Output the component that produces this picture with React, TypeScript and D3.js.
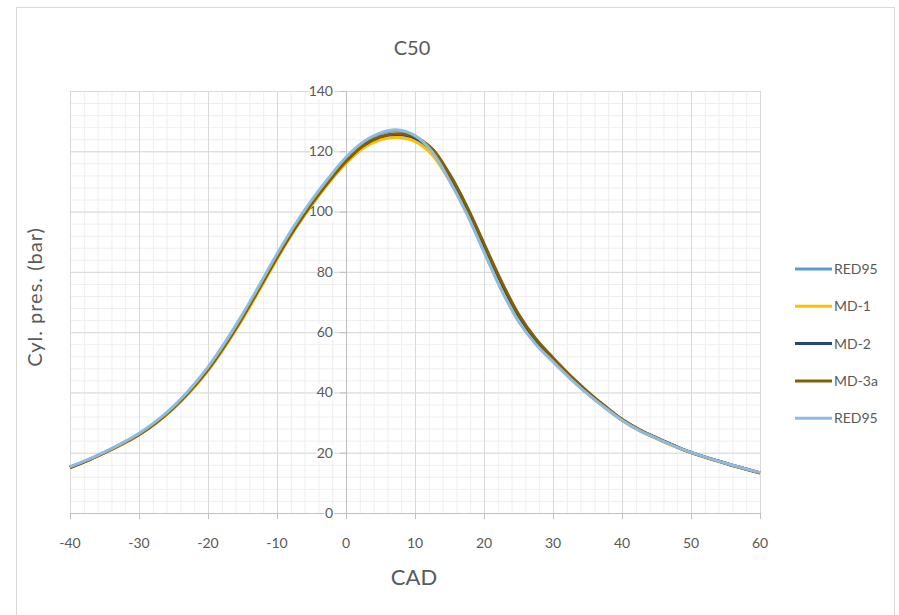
import * as d3 from "d3";
import React, { useEffect, useRef } from "react";

// crank angle (deg)
const cad = [-40, -37.5, -35, -32.5, -30, -27.5, -25, -22.5, -20, -17.5, -15, -12.5, -10, -7.5, -5, -2.5, 0, 2.5, 5, 7.5, 10, 12.5, 15, 17.5, 20, 22.5, 25, 27.5, 30, 32.5, 35, 37.5, 40, 42.5, 45, 47.5, 50, 55, 60];

const red95a = [15.2, 17.5, 20.1, 23, 26.3, 30.3, 35.2, 41.2, 48.2, 56.5, 65.6, 75.5, 85.6, 95, 103.4, 110.9, 117.7, 122.8, 125.8, 126.8, 125, 119.8, 110.5, 99.5, 86.8, 74.3, 63.8, 56.2, 50.3, 44.7, 39.6, 35, 30.8, 27.4, 24.8, 22.3, 20.1, 16.5, 13.3];
const md1 = [15, 17.3, 19.9, 22.7, 25.9, 29.8, 34.6, 40.4, 47.2, 55.3, 64.3, 74.1, 84.2, 93.7, 102, 109.5, 116, 121, 123.8, 124.6, 123.3, 118.8, 110.2, 99.5, 87, 74.8, 64, 56.4, 50.4, 44.8, 39.6, 35, 30.8, 27.4, 24.7, 22.2, 20, 16.4, 13.2];
const md2 = [15.1, 17.4, 20, 22.9, 26.1, 30.1, 35, 40.9, 47.8, 56, 65.1, 75, 85, 94.4, 102.8, 110.3, 117, 122, 124.8, 125.6, 124.4, 120.2, 111.8, 101.2, 88.8, 76.4, 65.5, 57.4, 51.2, 45.4, 40.1, 35.4, 31, 27.6, 24.9, 22.4, 20.1, 16.5, 13.3];
const md3a = [15.1, 17.4, 20, 22.9, 26, 30, 34.9, 40.8, 47.6, 55.8, 64.9, 74.8, 84.8, 94.1, 102.5, 110, 116.6, 121.8, 124.8, 125.8, 124.8, 120.8, 112.5, 101.8, 89.4, 77, 66, 57.8, 51.5, 45.6, 40.3, 35.5, 31.1, 27.7, 24.9, 22.4, 20.1, 16.5, 13.3];
const red95b = [15.3, 17.6, 20.2, 23.1, 26.4, 30.5, 35.4, 41.4, 48.4, 56.7, 65.9, 75.8, 85.9, 95.3, 103.7, 111.2, 118, 123.1, 126.1, 127.1, 125.2, 119.8, 110.3, 99.3, 86.6, 74.1, 63.6, 56, 50.2, 44.6, 39.5, 35, 30.8, 27.4, 24.8, 22.3, 20.1, 16.5, 13.4];

const seriesNames = ["RED95", "MD-1", "MD-2", "MD-3a", "RED95"];
const seriesValues = [red95a, md1, md2, md3a, red95b];
const seriesColors = ["#5b9bd5", "#ffc000", "#264478", "#806000", "#8fbbe3"];

const xTicks = [-40, -30, -20, -10, 0, 10, 20, 30, 40, 50, 60];
const yTicks = [0, 20, 40, 60, 80, 100, 120, 140];

const FONT = "'Liberation Sans Narrow', 'Lato', 'Open Sans', sans-serif";

export default function App() {
  const ref = useRef<SVGSVGElement>(null);

  useEffect(() => {
    const svg = d3.select(ref.current);
    svg.selectAll("*").remove();

    const x = d3.scaleLinear().domain([-40, 60]).range([70, 760]);
    const y = d3.scaleLinear().domain([0, 140]).range([513, 91]);

    // chart frame
    svg.append("rect")
      .attr("x", 16.5).attr("y", 7.5).attr("width", 878).attr("height", 620)
      .attr("fill", "#fff").attr("stroke", "#d9d9d9");

    const grid = svg.append("g");
    // minor grid
    grid.selectAll(".mx").data(d3.range(-40, 61, 2)).join("line")
      .attr("x1", (d) => x(d) + 0.5).attr("x2", (d) => x(d) + 0.5)
      .attr("y1", y(0)).attr("y2", y(140))
      .attr("stroke", "#eeeeee");
    grid.selectAll(".my").data(d3.range(0, 141, 4)).join("line")
      .attr("y1", (d) => y(d) + 0.5).attr("y2", (d) => y(d) + 0.5)
      .attr("x1", x(-40)).attr("x2", x(60))
      .attr("stroke", "#eeeeee");
    // major grid
    grid.selectAll(".Mx").data(xTicks).join("line")
      .attr("x1", (d) => x(d) + 0.5).attr("x2", (d) => x(d) + 0.5)
      .attr("y1", y(0)).attr("y2", y(140))
      .attr("stroke", "#d9d9d9");
    grid.selectAll(".My").data(yTicks).join("line")
      .attr("y1", (d) => y(d) + 0.5).attr("y2", (d) => y(d) + 0.5)
      .attr("x1", x(-40)).attr("x2", x(60))
      .attr("stroke", "#d9d9d9");

    // x axis ticks
    svg.selectAll(".xt").data(xTicks).join("line")
      .attr("x1", (d) => x(d) + 0.5).attr("x2", (d) => x(d) + 0.5)
      .attr("y1", y(0)).attr("y2", y(0) + 6)
      .attr("stroke", "#bfbfbf");
    svg.append("line")
      .attr("x1", x(-40)).attr("x2", x(60))
      .attr("y1", y(0) + 0.5).attr("y2", y(0) + 0.5)
      .attr("stroke", "#bfbfbf");
    svg.selectAll(".xl").data(xTicks).join("text")
      .attr("x", (d) => x(d)).attr("y", 548)
      .attr("text-anchor", "middle")
      .attr("font-family", FONT).attr("font-size", 14).attr("fill", "#595959")
      .text((d) => d);

    // y axis at x = 0
    svg.append("line")
      .attr("x1", x(0) + 0.5).attr("x2", x(0) + 0.5)
      .attr("y1", y(0)).attr("y2", y(140))
      .attr("stroke", "#bfbfbf");
    svg.selectAll(".yt").data(yTicks).join("line")
      .attr("x1", x(0) - 6).attr("x2", x(0))
      .attr("y1", (d) => y(d) + 0.5).attr("y2", (d) => y(d) + 0.5)
      .attr("stroke", "#bfbfbf");
    const yl = svg.selectAll(".yl").data(yTicks).join("g")
      .attr("transform", (d) => `translate(${x(0) - 13},${y(d)})`);
    yl.append("rect")
      .attr("x", (d) => (d === 0 ? -9 : d < 100 ? -16 : -23))
      .attr("y", -8).attr("height", 16)
      .attr("width", (d) => (d === 0 ? 10 : d < 100 ? 17 : 24))
      .attr("fill", "#fff");
    yl.append("text")
      .attr("text-anchor", "end").attr("dy", "0.35em")
      .attr("font-family", FONT).attr("font-size", 14).attr("fill", "#595959")
      .text((d) => d);

    // series
    const line = d3.line<number>()
      .x((d, i) => x(cad[i]))
      .y((d) => y(d))
      .curve(d3.curveCatmullRom.alpha(0.5));
    svg.selectAll(".s").data(seriesValues).join("path")
      .attr("d", (d) => line(d))
      .attr("fill", "none")
      .attr("stroke", (d, i) => seriesColors[i])
      .attr("stroke-width", 3)
      .attr("stroke-linejoin", "round");

    // titles
    svg.append("text")
      .attr("x", 412).attr("y", 55).attr("text-anchor", "middle")
      .attr("font-family", FONT).attr("font-size", 20).attr("fill", "#595959")
      .text("C50");
    svg.append("text")
      .attr("x", 414).attr("y", 585).attr("text-anchor", "middle")
      .attr("font-family", FONT).attr("font-size", 22).attr("fill", "#595959")
      .text("CAD");
    svg.append("text")
      .attr("transform", "translate(42,297) rotate(-90)")
      .attr("text-anchor", "middle")
      .attr("font-family", FONT).attr("font-size", 20).attr("fill", "#595959")
      .attr("letter-spacing", 1)
      .text("Cyl. pres. (bar)");

    // legend
    const lg = svg.selectAll(".lg").data(seriesNames).join("g")
      .attr("transform", (d, i) => `translate(795,${269 + i * 37.3})`);
    lg.append("line")
      .attr("x1", 0).attr("x2", 37)
      .attr("stroke", (d, i) => seriesColors[i])
      .attr("stroke-width", 3);
    lg.append("text")
      .attr("x", 39).attr("dy", "0.35em")
      .attr("font-family", FONT).attr("font-size", 14).attr("fill", "#595959")
      .text((d) => d);
  }, []);

  return (
    <svg
      ref={ref}
      width={899}
      height={615}
      style={{ position: "absolute", left: 0, top: 0, background: "#fff" }}
    />
  );
}
